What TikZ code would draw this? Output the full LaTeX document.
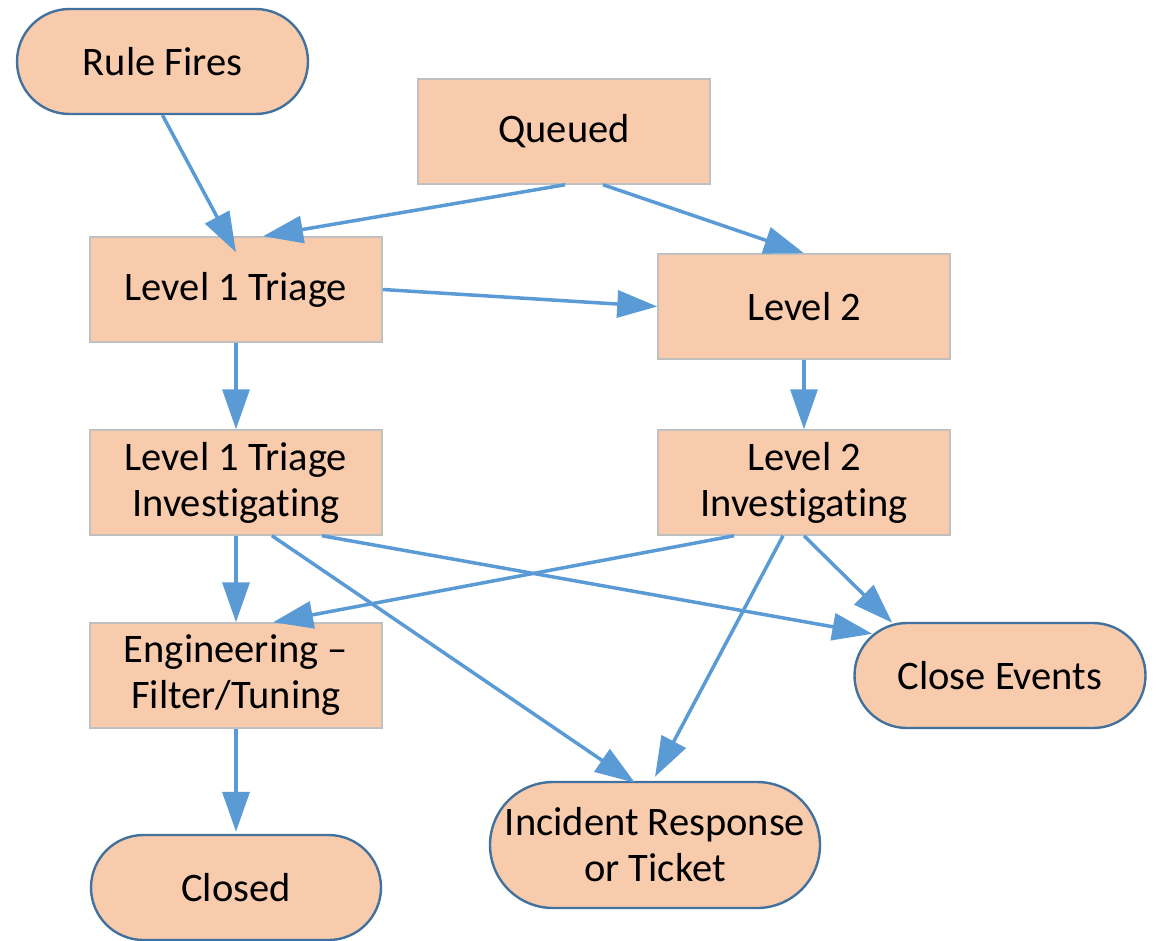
\documentclass[tikz,border=0pt]{standalone}
\usepackage{fontspec}
\setmainfont{Carlito}[RawFeature={-liga;-clig;-calt;-dlig}]
\usetikzlibrary{arrows.meta}
\definecolor{boxfill}{HTML}{F8CBAD}
\definecolor{boxline}{HTML}{C0C0C0}
\definecolor{termline}{HTML}{41719C}
\definecolor{arrowcol}{HTML}{5B9BD5}
\tikzset{
  procbox/.style={draw=boxline, line width=1.5pt, fill=boxfill, minimum width=292pt, minimum height=105pt, inner sep=0pt, align=center, font=\fontsize{40.5}{46}\selectfont},
  termbox/.style={draw=termline, line width=2.4pt, fill=boxfill, rounded corners=52.5pt, minimum width=291pt, minimum height=105pt, inner sep=0pt, align=center, font=\fontsize{40.5}{46}\selectfont},
  arr/.style={draw=arrowcol, line width=3.5pt, -{Triangle[length=40pt,width=27pt]}}
}
\begin{document}
\begin{tikzpicture}[x=1pt,y=-1pt]
\useasboundingbox (0,0) rectangle (1156,940);
\node[termbox] (rule) at (162.5,61.5) {Rule Fires};
\node[procbox] (queued) at (564,131.5) {Queued};
\node[procbox] (l1) at (236,289.5) {Level 1 Triage};
\node[procbox] (l2) at (804,306.5) {Level 2};
\node[procbox] (l1i) at (236,482.5) {Level 1 Triage\\Investigating};
\node[procbox] (l2i) at (804,482.5) {Level 2\\Investigating};
\node[procbox] (eng) at (236,675.5) {Engineering –\\Filter/Tuning};
\node[termbox] (ce) at (1000,675.5) {Close Events};
\node[termbox, minimum width=330pt, minimum height=126pt, rounded corners=63pt] (inc) at (655,845) {Incident Response\\or Ticket};
\node[termbox, minimum width=290pt] (closed) at (236,887.5) {Closed};

\draw[arr] (rule.south) -- ([yshift=-16pt]l1.north);
\draw[arr] ([xshift=1pt]queued.south) -- ([xshift=27pt]l1.north);
\draw[arr] ([xshift=39pt]queued.south) -- (l2.north);
\draw[arr] (l1.east) -- (l2.west);
\draw[arr] (l1.south) -- (l1i.north);
\draw[arr] (l2.south) -- (l2i.north);
\draw[arr] (l1i.south) -- (eng.north);
\draw[arr] ([xshift=36pt]l1i.south) -- ([xshift=-20pt,yshift=-2pt]inc.north);
\draw[arr] ([xshift=86pt]l1i.south) -- ([xshift=19pt,yshift=-12pt]ce.north west);
\draw[arr] ([xshift=-70pt]l2i.south) -- ([xshift=37pt]eng.north);
\draw[arr] ([xshift=-21pt]l2i.south) -- ([yshift=4pt]inc.north);
\draw[arr] (l2i.south) -- ([xshift=39pt,yshift=-1pt]ce.north west);
\draw[arr] (eng.south) -- ([yshift=2pt]closed.north);
\end{tikzpicture}
\end{document}
